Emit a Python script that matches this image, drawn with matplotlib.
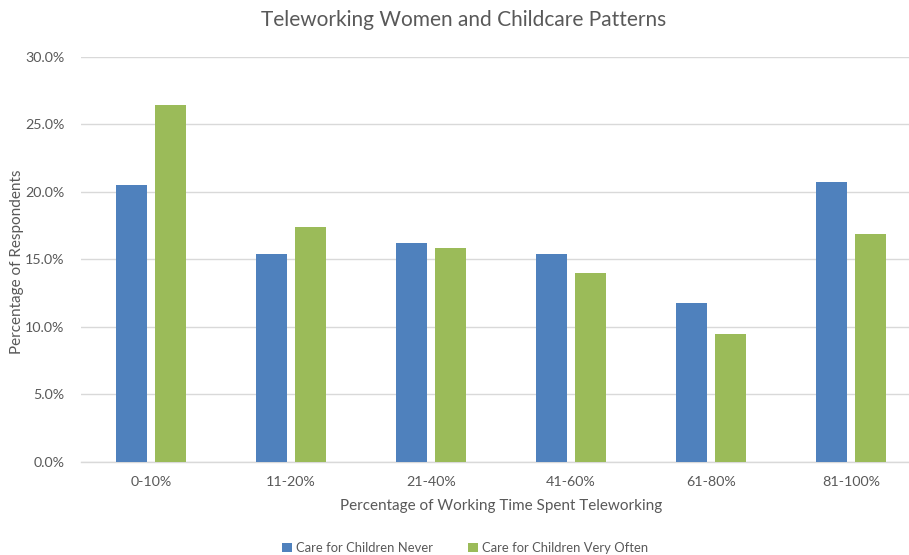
import matplotlib
matplotlib.use("Agg")
import matplotlib.pyplot as plt
import numpy as np
from matplotlib.ticker import PercentFormatter
from matplotlib.patches import Patch

plt.rcParams['font.family'] = ['Lato', 'DejaVu Sans']

categories = ["0-10%", "11-20%", "21-40%", "41-60%", "61-80%", "81-100%"]
never = [20.5, 15.4, 16.2, 15.4, 11.8, 20.7]
very_often = [26.4, 17.4, 15.8, 14.0, 9.5, 16.9]
series_names = ["Care for Children Never", "Care for Children Very Often"]

BLUE = "#4F81BD"
GREEN = "#9BBB59"
GRID = "#D9D9D9"
TEXT = "#595959"

W, H = 909, 555
fig = plt.figure(figsize=(W / 100, H / 100), dpi=100)
ax = fig.add_axes([81 / W, (H - 462) / H, 828 / W, 405.5 / H])

x = np.arange(len(categories))
bw = 0.221
off = 0.139
ax.bar(x - off, never, bw, color=BLUE, zorder=3)
ax.bar(x + off, very_often, bw, color=GREEN, zorder=3)

ax.set_xlim(-0.5, -0.5 + 828 / 140)
ax.set_ylim(0, 30)
ax.set_yticks(np.arange(0, 30.1, 5))
ax.yaxis.set_major_formatter(PercentFormatter(decimals=1))
ax.set_xticks(x)
ax.set_xticklabels(categories)

ax.grid(axis='y', color=GRID, linewidth=1.0, zorder=0)
for s in ["top", "right", "left"]:
    ax.spines[s].set_visible(False)
ax.spines["bottom"].set_color(GRID)
ax.spines["bottom"].set_linewidth(1.0)
ax.tick_params(axis='both', length=0, colors=TEXT, labelsize=10.3)
ax.tick_params(axis='y', pad=12)
ax.tick_params(axis='x', pad=10)

ax.set_xlabel("Percentage of Working Time Spent Teleworking", fontsize=11,
              color=TEXT, va='center', ha='center')
ax.xaxis.set_label_coords((501 - 81) / 828, (462 - 506) / 405.5)
ax.set_ylabel("Percentage of Respondents", fontsize=11, color=TEXT,
              va='center', ha='center')
ax.yaxis.set_label_coords((17 - 81) / 828, (462 - 262) / 405.5)

fig.text(463.5 / W, 1 - 20 / H, "Teleworking Women and Childcare Patterns",
         fontsize=15, color=TEXT, ha='center', va='center')

handles = [Patch(facecolor=BLUE, label=series_names[0]),
           Patch(facecolor=GREEN, label=series_names[1])]
fig.legend(handles=handles, loc='center', bbox_to_anchor=(465 / W, 1 - 548 / H),
           ncol=2, frameon=False, fontsize=9.4, labelcolor=TEXT,
           handlelength=0.75, handleheight=0.75, handletextpad=0.3,
           columnspacing=2.7)

fig.savefig("out.png", dpi=100, facecolor="white")
